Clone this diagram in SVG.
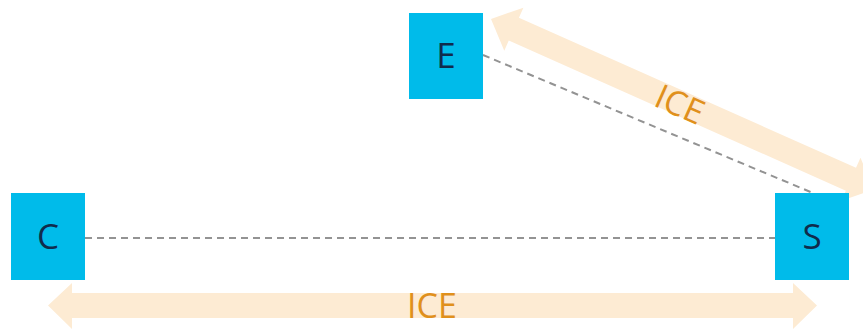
<svg xmlns="http://www.w3.org/2000/svg" width="863" height="330" viewBox="0 0 863 330">
  <style>
    .node rect { fill: #00BBEA; }
    .node text { font-family: "Open Sans", "Liberation Sans", sans-serif; font-size: 35px; fill: #102B4C; text-anchor: middle; }
    .link { stroke: #939393; stroke-width: 2; stroke-dasharray: 7 5; fill: none; }
    .ice { fill: #FDEBD3; }
    .ice-label { font-family: "Open Sans", "Liberation Sans", sans-serif; font-size: 34px; fill: #E0901C; text-anchor: middle; }
  </style>

  <!-- ICE double arrows -->
  <g id="ice-arrows">
    <!-- C <-> S, horizontal -->
    <polygon class="ice" points="48,305.5 72,283 72,293 793,293 793,283 817,305.5 793,329 793,318 72,318 72,329"/>
    <text class="ice-label" x="432" y="318">ICE</text>
    <!-- E <-> S, diagonal -->
    <g transform="translate(491,19) rotate(24)">
      <polygon class="ice" points="0,0 25,-23.5 25,-12.5 394,-12.5 394,-23.5 419,0 394,23.5 394,12.5 25,12.5 25,23.5"/>
    </g>
    <text class="ice-label" transform="translate(680,104) rotate(24)" x="0" y="12.5">ICE</text>
  </g>

  <!-- connectors -->
  <g id="connectors">
    <line class="link" x1="85" y1="238" x2="775" y2="238"/>
    <line class="link" x1="483" y1="55" x2="813" y2="193"/>
  </g>

  <!-- nodes -->
  <g id="node-E" class="node">
    <rect x="409" y="13" width="74" height="86"/>
    <text x="446" y="68">E</text>
  </g>
  <g id="node-C" class="node">
    <rect x="11" y="193" width="74" height="87"/>
    <text x="48" y="249">C</text>
  </g>
  <g id="node-S" class="node">
    <rect x="775" y="193" width="74" height="87"/>
    <text x="812" y="249">S</text>
  </g>
</svg>
